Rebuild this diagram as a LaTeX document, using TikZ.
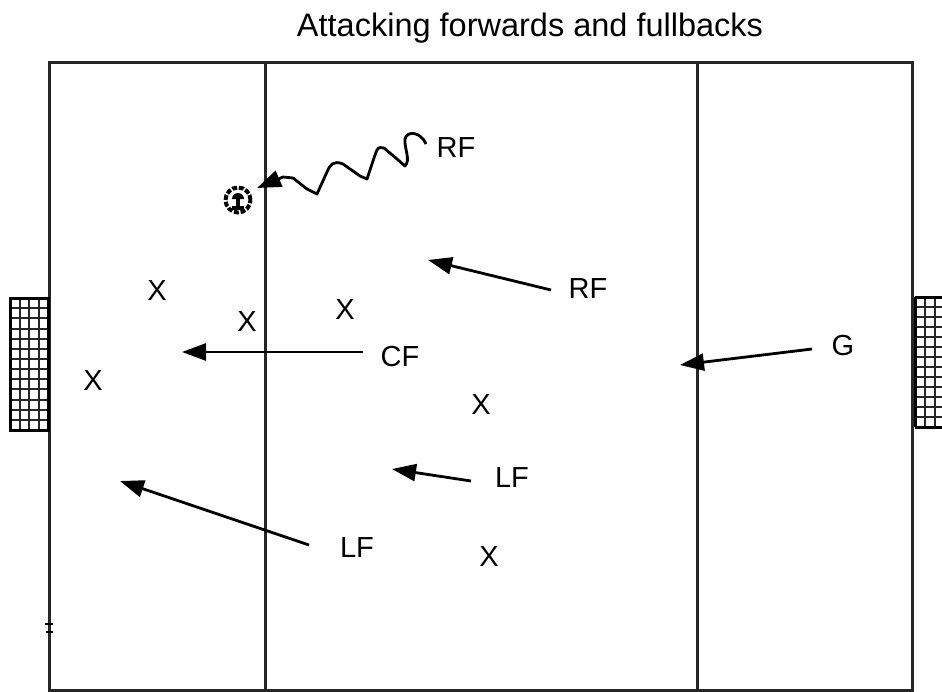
\documentclass[tikz,border=0pt]{standalone}
\usepackage{fontspec}
\setmainfont{Liberation Sans}
\usetikzlibrary{arrows.meta}
\begin{document}
\begin{tikzpicture}[x=1pt,y=-1pt,
  fieldline/.style={line width=3pt,draw=black!85},
  goalnet/.style={line width=2pt,draw=black!85},
  run/.style={line width=2.8pt,-{Triangle[length=24pt,width=17pt]}},
  lbl/.style={font=\fontsize{29}{29}\selectfont,inner sep=0pt},
  player/.style={font=\fontsize{29}{29}\selectfont,inner sep=0pt}]
\useasboundingbox (0,0) rectangle (942,691);
\fill[white] (0,0) rectangle (942,691);

% title
\node[font=\fontsize{32.5}{32.5}\selectfont,inner sep=0pt] (title) at (530,28) {Attacking forwards and fullbacks};

% pitch outline and thirds
\draw[fieldline] (49,692) -- (49,62) -- (912,62) -- (912,692);
\draw[fieldline] (49,690) -- (912,690);
\draw[fieldline] (265,62) -- (265,692);
\draw[fieldline] (697,62) -- (697,692);
\draw[line width=1.4pt] (45,624) -- (53,624) (46,632) -- (53,632);

% goals
\foreach \xx in {19.5,29,38.5}
  \draw[goalnet] (\xx,298) -- (\xx,430);
\foreach \yy in {308.2,318.3,328.5,338.6,348.8,359,369.1,379.2,389.4,399.5,409.7,419.8}
  \draw[goalnet] (10,\yy) -- (48,\yy);
\draw[line width=3pt] (10,298) rectangle (48,430);
\foreach \yy in {307,317,327,337,347,357,367,377,387,397,407,417}
  \draw[goalnet] (915,\yy) -- (942,\yy);
\foreach \xx in {925,935}
  \draw[goalnet] (\xx,297) -- (\xx,427);
\draw[line width=3pt] (915,297) -- (915,427) (915,297) -- (942,297) (915,427) -- (942,427);

% ball
\draw[line width=4pt,dash pattern=on 5pt off 1.8pt] (238,200) circle (12.5pt);
\fill (232,199) arc (180:0:6pt) -- cycle;
\fill (236.3,198) rectangle (239.7,207);
\fill (232,205.5) rectangle (244,209.5);

% players
\node[player] (x1) at (157,291) {X};
\node[player] (x2) at (247,322) {X};
\node[player] (x3) at (345,310) {X};
\node[player] (x4) at (93,381) {X};
\node[player] (x5) at (481,405) {X};
\node[player] (x6) at (489,557) {X};

% labels
\node[lbl] (rfa) at (456,148) {RF};
\node[lbl] (rfb) at (588,289) {RF};
\node[lbl] (cf) at (400,357) {CF};
\node[lbl] (g) at (843,346) {G};
\node[lbl] (lfa) at (512,478) {LF};
\node[lbl] (lfb) at (357,548) {LF};

% arrow ends
\coordinate (rfbT) at (551,290);  \coordinate (rfbH) at (428,260);
\coordinate (cfT) at (363,352);   \coordinate (cfH) at (182,352);
\coordinate (gT) at (812,349);    \coordinate (gH) at (680,365);
\coordinate (lfaT) at (471,481);  \coordinate (lfaH) at (392,469);
\coordinate (lfbT) at (309,545);  \coordinate (lfbH) at (120,481);
\coordinate (dribS) at (426,144); \coordinate (dribH) at (257,188);

% runs
\draw[run] (rfbT) -- (rfbH);
\draw[run] (cfT) -- (cfH);
\draw[run] (gT) -- (gH);
\draw[run] (lfaT) -- (lfaH);
\draw[run] (lfbT) -- (lfbH);

% dribble
\draw[line width=2.8pt,line join=round,-{Triangle[length=24pt,width=17pt]}]
  (dribS) .. controls (421,132) and (407,130) .. (405,139)
  .. controls (404,148) and (411,160) .. (405,166)
  -- (397,159) -- (384,148)
  .. controls (378,147) .. (375,155)
  -- (367,179) -- (360,176) -- (343,164)
  .. controls (333,160) and (330,165) .. (327,172)
  -- (317,194) -- (307,189) -- (293,178) -- (283,177) -- (dribH);
\end{tikzpicture}
\end{document}
